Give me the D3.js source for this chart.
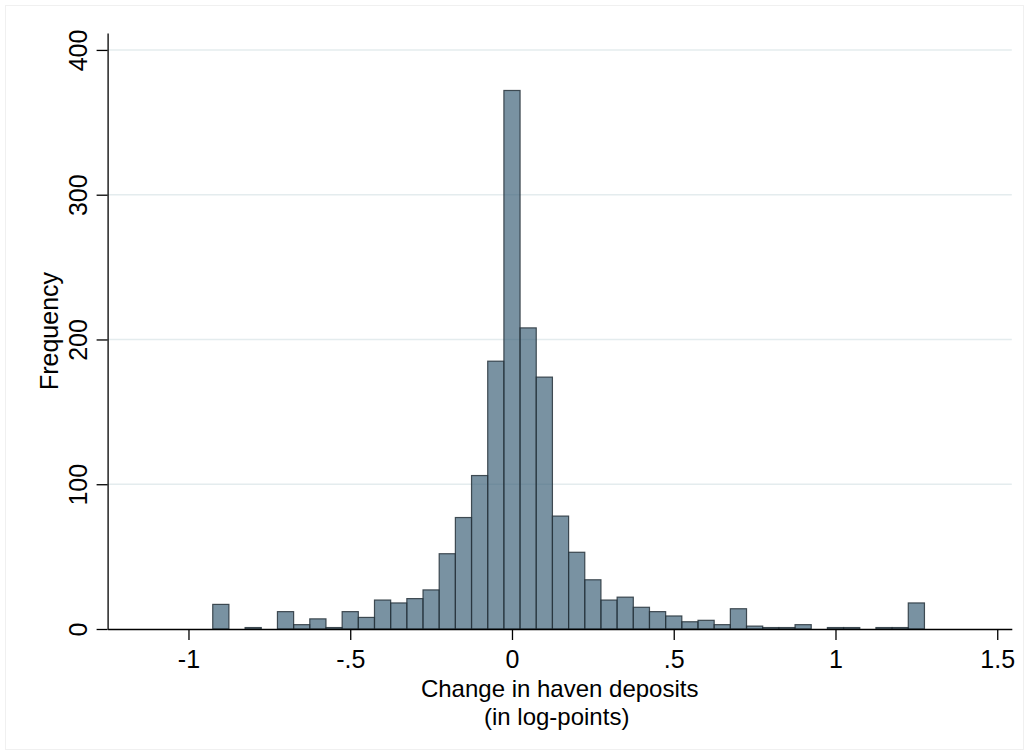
<!DOCTYPE html>
<html>
<head>
<meta charset="utf-8">
<script src="https://cdn.jsdelivr.net/npm/d3@7"></script>
<style>
  html, body { margin: 0; padding: 0; background: #fff; }
  svg { display: block; }
  text { font-family: "Liberation Sans", Arial, Helvetica, sans-serif; fill: #000; }
</style>
</head>
<body>
<svg id="chart" width="1029" height="755"></svg>
<script>
// ---- data ----
const binCenters = [-0.9, -0.85, -0.8, -0.75, -0.7, -0.65, -0.6, -0.55, -0.5, -0.45,
                    -0.4, -0.35, -0.3, -0.25, -0.2, -0.15, -0.1, -0.05, 0, 0.05,
                    0.1, 0.15, 0.2, 0.25, 0.3, 0.35, 0.4, 0.45, 0.5, 0.55,
                    0.6, 0.65, 0.7, 0.75, 0.8, 0.85, 0.9, 0.95, 1.0, 1.05,
                    1.1, 1.15, 1.2, 1.25];
const frequencies = [17, 0, 1, 0, 12, 3, 7, 1, 12, 8,
                     20, 18, 21, 27, 52, 77, 106, 185, 372, 208,
                     174, 78, 53, 34, 20, 22, 15, 12, 9, 5,
                     6, 3, 14, 2, 1, 1, 3, 0, 1, 1,
                     0, 1, 1, 18];
const binWidth = 0.05;
const xTicks = [-1, -0.5, 0, 0.5, 1, 1.5];
const xTickLabels = ["-1", "-.5", "0", ".5", "1", "1.5"];
const yTicks = [0, 100, 200, 300, 400];
const xTitle1 = "Change in haven deposits";
const xTitle2 = "(in log-points)";
const yTitle = "Frequency";

// ---- layout ----
const svg = d3.select("#chart");
const x = d3.scaleLinear().domain([-1.25, 1.545]).range([107.6, 1011.8]);
const y = d3.scaleLinear().domain([0, 411.7]).range([629, 33]);

// faint outer frame
svg.append("rect")
  .attr("x", 5.5).attr("y", 5.5).attr("width", 1018).attr("height", 744)
  .attr("fill", "none").attr("stroke", "#f0f0f0").attr("stroke-width", 1);

// gridlines
svg.append("g").selectAll("line")
  .data(yTicks.filter(d => d > 0))
  .join("line")
  .attr("x1", x.range()[0]).attr("x2", x.range()[1])
  .attr("y1", d => y(d)).attr("y2", d => y(d))
  .attr("stroke", "#e4ecee").attr("stroke-width", 1.6);

// bars
svg.append("g").selectAll("rect")
  .data(binCenters.map((c, i) => ({c, v: frequencies[i]})))
  .join("rect")
  .attr("x", d => x(d.c - binWidth / 2))
  .attr("width", d => x(d.c + binWidth / 2) - x(d.c - binWidth / 2))
  .attr("y", d => y(d.v))
  .attr("height", d => y(0) - y(d.v))
  .attr("fill", "rgb(58,94,118)")
  .attr("fill-opacity", 0.68)
  .attr("stroke", "#27333b")
  .attr("stroke-opacity", 0.85)
  .attr("stroke-width", 1.2);

// x axis
const xAxis = d3.axisBottom(x)
  .tickValues(xTicks)
  .tickFormat((d, i) => xTickLabels[i])
  .tickSize(11).tickSizeOuter(0).tickPadding(10);
const gx = svg.append("g").attr("transform", `translate(0,${y(0)})`).call(xAxis);
gx.select(".domain").attr("stroke", "#000").attr("stroke-width", 1.3);
gx.selectAll(".tick line").attr("stroke", "#000").attr("stroke-width", 1.3);
gx.selectAll(".tick text").attr("font-size", 25).attr("font-family", "Liberation Sans, Arial, sans-serif")
  .attr("fill", "#000").attr("dy", null).attr("y", 39);

// y axis
const yAxis = d3.axisLeft(y)
  .tickValues(yTicks)
  .tickSize(11).tickSizeOuter(0);
const gy = svg.append("g").attr("transform", `translate(${x.range()[0]},0)`).call(yAxis);
gy.select(".domain").attr("stroke", "#000").attr("stroke-width", 1.3);
gy.selectAll(".tick line").attr("stroke", "#000").attr("stroke-width", 1.3);
gy.selectAll(".tick text")
  .attr("font-size", 25).attr("font-family", "Liberation Sans, Arial, sans-serif")
  .attr("fill", "#000")
  .attr("x", null).attr("dy", null)
  .attr("text-anchor", "middle")
  .attr("transform", "translate(-21,0) rotate(-90)");

// axis titles
const xMid = (x.range()[0] + x.range()[1]) / 2;
svg.append("text").attr("x", xMid).attr("y", 697).attr("text-anchor", "middle")
  .attr("font-size", 24).text(xTitle1);
svg.append("text").attr("x", xMid - 3).attr("y", 725).attr("text-anchor", "middle")
  .attr("font-size", 24).text(xTitle2);
svg.append("text")
  .attr("transform", `translate(58,${(y(0) + y.range()[1]) / 2}) rotate(-90)`)
  .attr("text-anchor", "middle").attr("font-size", 25).text(yTitle);
</script>
</body>
</html>
